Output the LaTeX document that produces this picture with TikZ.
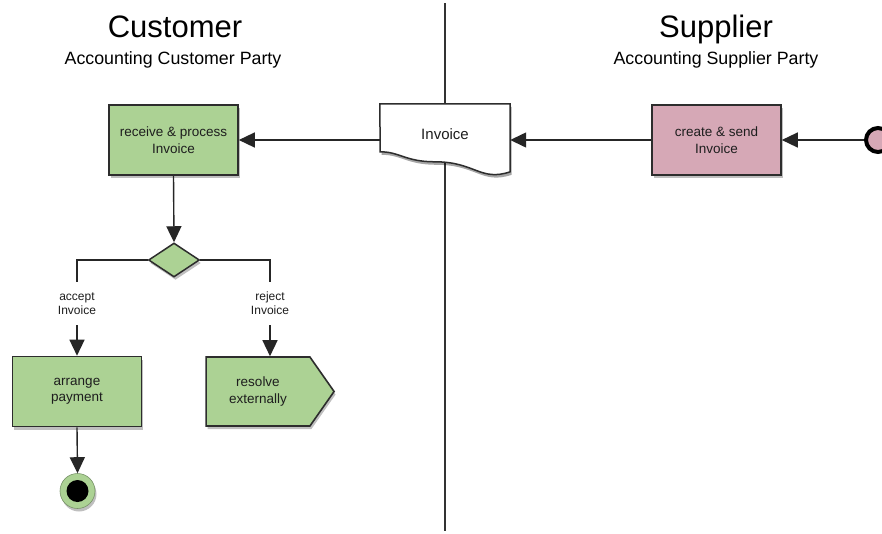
\documentclass[tikz,border=0pt]{standalone}
\usepackage{fontspec}
\setmainfont{Liberation Sans}
\usetikzlibrary{arrows.meta,shapes.geometric,shapes.symbols,shadows}
\definecolor{actgreen}{RGB}{172,210,148}
\definecolor{actpink}{RGB}{214,168,182}
\definecolor{edgegray}{RGB}{45,45,45}
\definecolor{txtgray}{RGB}{30,30,30}
\begin{document}
\begin{tikzpicture}[x=1pt,y=-1pt,
  shad/.style={drop shadow={opacity=0.5,shadow xshift=1.5pt,shadow yshift=-3pt}},
  actbox/.style={draw=edgegray,line width=1.6pt,fill=actgreen,shad,minimum width=129pt,minimum height=70pt,inner sep=0pt,align=center,font=\fontsize{13.5}{16.5}\selectfont,text=txtgray},
  conn/.style={line width=1.4pt,draw=black!85},
  arr/.style={conn,-{Triangle[length=16pt,width=15pt]}},
  lbl/.style={font=\fontsize{12}{14}\selectfont,align=center,text=txtgray,inner sep=0pt,minimum height=43pt},
]
\useasboundingbox (0,0) rectangle (882,533);
\fill[white] (0,0) rectangle (882,533);
% swimlane divider
\coordinate (dtop) at (445,3);
\coordinate (dbot) at (445,531);
\draw[line width=1.3pt,black!80] (dtop) -- (dbot);
% headers
\node[anchor=base,font=\fontsize{31}{34}\selectfont] (hc) at (175,37) {Customer};
\node[anchor=base,font=\fontsize{17.8}{20}\selectfont] (hcs) at (173,64) {Accounting Customer Party};
\node[anchor=base,font=\fontsize{31}{34}\selectfont] (hs) at (716,37) {Supplier};
\node[anchor=base,font=\fontsize{17.8}{20}\selectfont] (hss) at (716,64) {Accounting Supplier Party};
% document shape (Invoice)
\node[minimum width=130pt,minimum height=60pt,inner sep=0pt] (inv) at (445,134) {};
\fill[black,opacity=0.35] ([xshift=1.5pt,yshift=-3pt]inv.north west) -- ([xshift=1.5pt,yshift=-3pt]inv.north east)
  -- ++(0,68) .. controls +(-30,10) and +(40,0) .. ++(-75,-10) .. controls +(-30,0) and +(20,0) .. ++(-55,-10) -- cycle;
\draw[draw=edgegray,line width=1.5pt,fill=white] (inv.north west) -- (inv.north east)
  -- ++(0,68) .. controls +(-30,10) and +(40,0) .. ++(-75,-10) .. controls +(-30,0) and +(20,0) .. ++(-55,-10) -- cycle;
\node[font=\fontsize{15}{18}\selectfont,text=txtgray] (invt) at (445,134) {Invoice};
% supplier activity
\node[actbox,fill=actpink] (create) at (716.5,140) {create \& send\\Invoice};
% start node
\node[circle,draw=black,line width=4pt,fill=actpink,minimum size=24pt,inner sep=0pt] (start) at (878,140) {};
% customer activity
\node[actbox] (recv) at (173.5,140) {receive \& process\\Invoice};
% decision
\node[diamond,draw=edgegray,line width=1.5pt,fill=actgreen,shad,minimum width=51pt,minimum height=34pt,aspect=1.5,inner sep=0pt] (dec) at (174,260) {};
% labels
\node[lbl] (acc) at (77,303.5) {accept\\Invoice};
\node[lbl] (rej) at (270,303.5) {reject\\Invoice};
% outcomes
\node[actbox] (pay) at (77,391.5) {arrange\\payment};
\node[signal,signal to=east,signal pointer angle=110,draw=edgegray,line width=1.6pt,fill=actgreen,shad,minimum width=128pt,minimum height=69pt,inner sep=0pt,align=center,font=\fontsize{13.5}{16.5}\selectfont,text=txtgray] (res) at (258,391.5) {resolve\\externally};
% end node
\node[circle,fill=actgreen,draw=actgreen!70!black,line width=0.6pt,minimum size=35pt,inner sep=0pt,shad] (endn) at (77.5,491) {};
\node[circle,fill=black,minimum size=22pt,inner sep=0pt] (endc) at (endn.center) {};
% connectors
\draw[arr] (start.west) -- (create.east);
\draw[arr] (create.west) -- (inv.east |- create.west);
\draw[arr] (inv.west |- recv.east) -- (recv.east);
\draw[arr] (recv.south) -- (dec.north);
\draw[conn] (dec.west) -| (acc.north);
\draw[conn] (dec.east) -| (rej.north);
\draw[arr] (acc.south) -- (pay.north);
\draw[arr] (rej.south) -- (rej.south |- res.north);
\draw[arr] (pay.south) -- (endn.north);
\end{tikzpicture}
\end{document}
